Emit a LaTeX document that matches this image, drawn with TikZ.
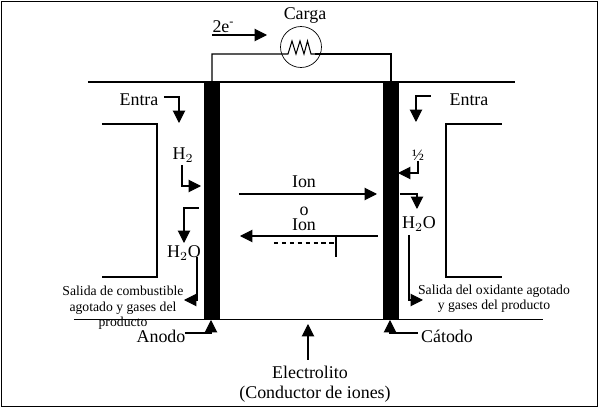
\documentclass[tikz,border=0pt]{standalone}
\usepackage{fontspec}
\setmainfont{Liberation Serif}
\usetikzlibrary{arrows.meta}
\tikzset{
    flecha/.style={-{Triangle[length=7pt,width=7pt]},line width=0.6pt},
    rotulo/.style={font=\fontsize{10.2}{12}\selectfont,inner sep=0pt},
    nota/.style={font=\fontsize{7.8}{8.8}\selectfont,inner sep=0pt,align=center},
}

\begin{document}
\begin{tikzpicture}[x=0.02cm,y=-0.02cm,line width=0.6pt]
    \useasboundingbox (0,0) rectangle (600,409);
    \draw[line width=0.7pt] (1.3,1.3) rectangle (597.7,406.7);

    % placas y electrodos
    \draw (88,82) -- (515,82);
    \draw (74,319.5) -- (543,319.5);
    \fill (204,82) rectangle (220,319.5);
    \fill (383,82) rectangle (399,319.5);
    \draw (102,124) -- (157,124) -- (157,277) -- (102,277);
    \draw (502,124) -- (446,124) -- (446,277) -- (502,277);

    % carga
    \node[draw,circle,minimum size=0.82cm,inner sep=0pt,line width=0.4pt] (carga) at (301,47) {};
    \node[rotulo] (cargaT) at (305,16) {Carga};
    \coordinate (hiloA) at (212,82);
    \coordinate (hiloB) at (391,82);
    \coordinate (resA) at (288,54);
    \coordinate (resB) at (315,54);
    \draw (hiloA) |- (resA) -- ++(4,-13) -- ++(4,13) -- ++(4,-13) -- ++(4,13) -- ++(3.5,-13) -- ++(3.5,13) -- (resB);
    \draw (resB) -| (hiloB);
    \node[rotulo,anchor=base west] (elec) at (212,32) {2e\raisebox{0.8ex}{\fontsize{7}{7}\selectfont -}};
    \coordinate (elecA) at (212,35);
    \coordinate (elecB) at (267,35);
    \draw[flecha] (elecA) -- (elecB);

    % lado del anodo
    \node[rotulo] (entraL) at (139,100) {Entra};
    \coordinate (entraLa) at (164,97);
    \coordinate (entraLb) at (179,123);
    \draw[flecha] (entraLa) -| (entraLb);
    \node[rotulo] (hdosL) at (183,155) {H$_{2}$};
    \coordinate (hdosLa) at (182,165);
    \coordinate (hdosLb) at (201,186);
    \draw[flecha] (hdosLa) |- (hdosLb);
    \coordinate (aguaLa) at (199,208);
    \coordinate (aguaLb) at (184,243);
    \draw[flecha] (aguaLa) -| (aguaLb);
    \node[rotulo] (aguaL) at (184,253) {H$_{2}$O};
    \coordinate (salLa) at (197,257);
    \coordinate (salLb) at (184,300);
    \draw[flecha] (salLa) |- (salLb);
    \node[nota] (salL) at (123,291) {Salida de combustible};
    \node[nota] (salLL) at (123,308) {agotado y gases del};
    \node[nota] (salLLL) at (123,323) {producto};
    \node[rotulo] (anodo) at (161,336) {Anodo};
    \coordinate (anodoA) at (185,333);
    \coordinate (anodoB) at (211,320);
    \draw[flecha] (anodoA) -| (anodoB);

    % lado del catodo
    \node[rotulo] (entraR) at (469,100) {Entra};
    \coordinate (entraRa) at (431,96);
    \coordinate (entraRb) at (416,122);
    \draw[flecha] (entraRa) -| (entraRb);
    \node[rotulo,font=\fontsize{9}{9}\selectfont] (medio) at (418,155) {½};
    \coordinate (medioA) at (418,161);
    \coordinate (medioB) at (398,173);
    \draw[flecha] (medioA) |- (medioB);
    \coordinate (aguaRa) at (400,194);
    \coordinate (aguaRb) at (417,209);
    \draw[flecha] (aguaRa) -| (aguaRb);
    \node[rotulo] (aguaR) at (419,224) {H$_{2}$O};
    \coordinate (salRa) at (409,235);
    \coordinate (salRb) at (423,300);
    \draw[flecha] (salRa) |- (salRb);
    \node[nota] (salR) at (494,291) {Salida del oxidante agotado};
    \node[nota] (salRR) at (494,306) {y gases del producto};
    \node[rotulo] (catodo) at (447,336) {Cátodo};
    \coordinate (catodoA) at (418,333);
    \coordinate (catodoB) at (390,320);
    \draw[flecha] (catodoA) -| (catodoB);

    % iones
    \node[rotulo] (ionA) at (304,182) {Ion};
    \node[rotulo] (ionO) at (304,211) {o};
    \node[rotulo] (ionB) at (304,225) {Ion};
    \coordinate (ionAa) at (239,194);
    \coordinate (ionAb) at (377,194);
    \draw[flecha] (ionAa) -- (ionAb);
    \coordinate (ionBa) at (378,236);
    \coordinate (ionBb) at (240,236);
    \draw[flecha] (ionBa) -- (ionBb);
    \coordinate (rayaA) at (274,243);
    \coordinate (rayaB) at (336,243);
    \draw[dashed,dash pattern=on 2.5pt off 2pt] (rayaA) -- (rayaB);
    \coordinate (topeA) at (336,235);
    \coordinate (topeB) at (336,257);
    \draw (topeA) -- (topeB);

    % electrolito
    \node[rotulo] (electrolito) at (310,372) {Electrolito};
    \node[rotulo] (conductor) at (315,394) {(Conductor de iones)};
    \coordinate (electA) at (308,360);
    \coordinate (electB) at (308,324);
    \draw[flecha] (electA) -- (electB);
\end{tikzpicture}
\end{document}
